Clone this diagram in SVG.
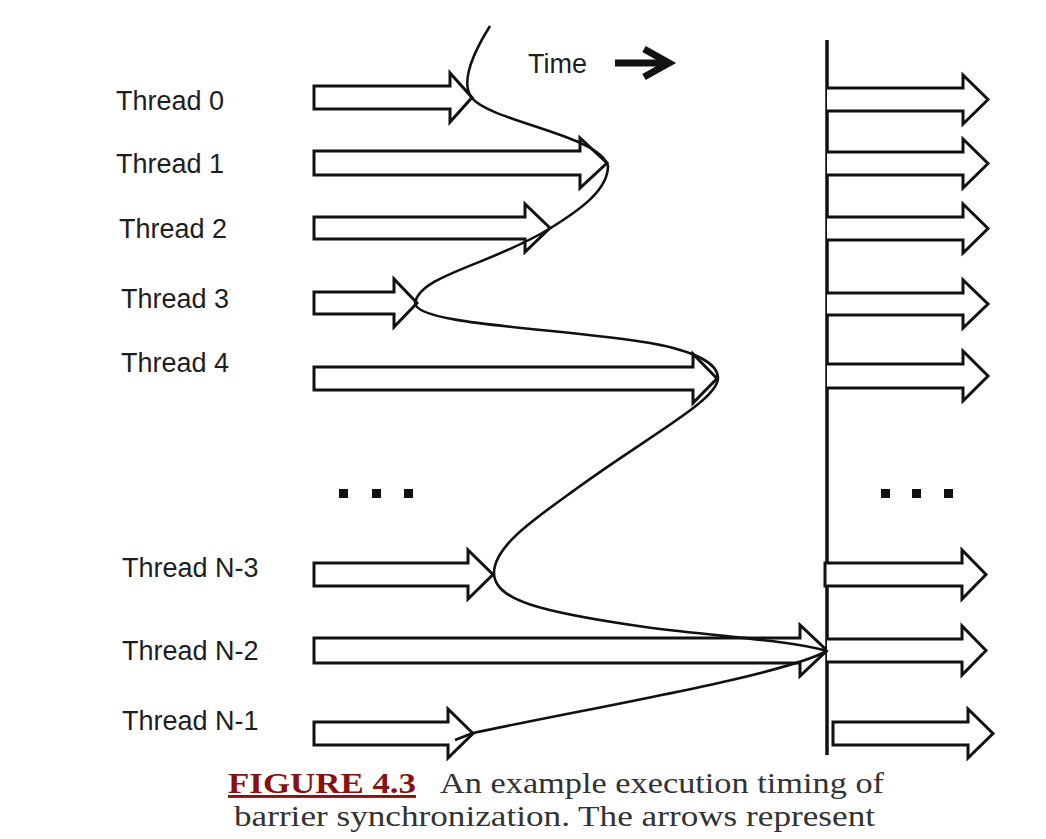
<svg xmlns="http://www.w3.org/2000/svg" width="1046" height="839" viewBox="0 0 1046 839">
<style>
.lbl{font-family:"Liberation Sans",Arial,sans-serif;font-size:27px;fill:#1e1e1e}
.arr{fill:#fff;stroke:#111;stroke-width:3;stroke-linejoin:miter}
.dot{fill:#111}
.cap{font-family:"Liberation Serif","Times New Roman",serif;font-size:29px;fill:#333}
.fig{font-weight:bold;fill:#8a1111;text-decoration:underline}
</style>
<rect width="1046" height="839" fill="#fff"/>

<g id="time">
<text class="lbl" x="528" y="73">Time</text>
<line x1="615" y1="63" x2="666" y2="63" stroke="#111" stroke-width="7"/>
<polyline points="644,49 669,63 644,77" fill="none" stroke="#111" stroke-width="7" stroke-linejoin="miter"/>
</g>

<g id="barrier">
<line x1="827" y1="40" x2="827" y2="755" stroke="#111" stroke-width="3.5"/>
</g>

<g id="thread0">
<text class="lbl" x="116" y="110">Thread 0</text>
<path class="arr" d="M314,86 H450 V73 L472,97.5 L450,122 V109 H314 Z"/>
<path class="arr" d="M827,88 H963 V75 L988,99.5 L963,124 V111 H827"/>
</g>
<g id="thread1">
<text class="lbl" x="116" y="173">Thread 1</text>
<path class="arr" d="M314,151 H580 V138 L607,163 L580,188 V175 H314 Z"/>
<path class="arr" d="M827,152 H963 V139 L988,163.5 L963,188 V175 H827"/>
</g>
<g id="thread2">
<text class="lbl" x="119" y="238">Thread 2</text>
<path class="arr" d="M314,217 H525 V204 L550,228 L525,252 V239 H314 Z"/>
<path class="arr" d="M827,217 H963 V204 L988,228.5 L963,253 V240 H827"/>
</g>
<g id="thread3">
<text class="lbl" x="121" y="308">Thread 3</text>
<path class="arr" d="M314,292 H394 V279 L417,303 L394,327 V314 H314 Z"/>
<path class="arr" d="M827,293 H963 V280 L988,304 L963,328 V315 H827"/>
</g>
<g id="thread4">
<text class="lbl" x="121" y="372">Thread 4</text>
<path class="arr" d="M314,367 H693 V354 L717,378.5 L693,403 V390 H314 Z"/>
<path class="arr" d="M827,364 H963 V351 L988,376 L963,401 V388 H827"/>
</g>

<g id="ellipsis">
<rect class="dot" x="339" y="489" width="9" height="9"/>
<rect class="dot" x="372" y="489" width="9" height="9"/>
<rect class="dot" x="404" y="489" width="9" height="9"/>
<rect class="dot" x="881" y="489" width="9" height="9"/>
<rect class="dot" x="912" y="489" width="9" height="9"/>
<rect class="dot" x="944" y="489" width="9" height="9"/>
</g>

<g id="threadN3">
<text class="lbl" x="122" y="577">Thread N-3</text>
<path class="arr" d="M314,563 H468 V550 L493,574.5 L468,599 V586 H314 Z"/>
<path class="arr" d="M825,563 H962 V550 L986,574.5 L962,599 V586 H825 Z"/>
</g>
<g id="threadN2">
<text class="lbl" x="122" y="660">Thread N-2</text>
<path class="arr" d="M314,638 H800 V625 L827,650.5 L800,676 V663 H314 Z"/>
<path class="arr" d="M827,639 H962 V626 L986,650.5 L962,675 V662 H827"/>
</g>
<g id="threadN1">
<text class="lbl" x="122" y="730">Thread N-1</text>
<path class="arr" d="M314,722 H448 V709 L473,733.5 L448,758 V745 H314 Z"/>
<path class="arr" d="M833,722 H968 V709 L993,733.5 L968,758 V745 H833 Z"/>
</g>

<g id="connectors">
<path d="M490,26 C475,50 460,80 471,97 C490,122 600,135 608,166 C608,190 580,210 549,229 C490,265 420,275 415,303 C416,325 560,328 650,343 C700,352 718,365 718,378 C718,400 650,435 576,489 C539,516 494,545 494,573 C494,600 540,612 645,627 C720,637 790,640 827,651 C780,676 600,706 473,733 L455,740" fill="none" stroke="#111" stroke-width="2.6" stroke-linejoin="round"/>
</g>

<g id="caption">
<text class="cap fig" x="228" y="793" textLength="188" lengthAdjust="spacingAndGlyphs">FIGURE 4.3</text>
<text class="cap" x="440" y="793" textLength="444" lengthAdjust="spacingAndGlyphs">An example execution timing of</text>
<text class="cap" x="234" y="826" textLength="641" lengthAdjust="spacingAndGlyphs">barrier synchronization. The arrows represent</text>
</g>
</svg>
